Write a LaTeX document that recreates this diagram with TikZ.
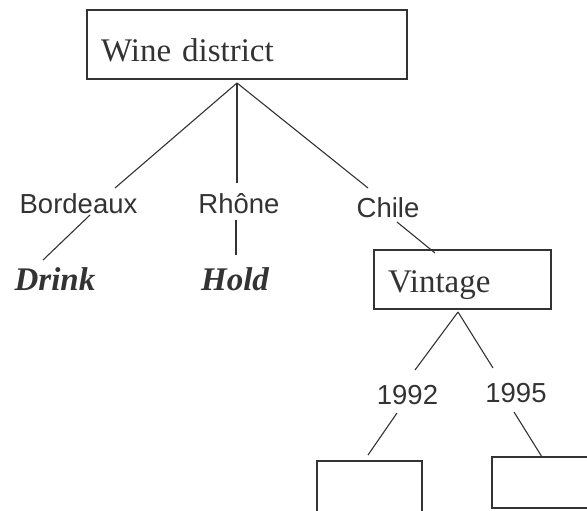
\documentclass[tikz,border=0pt]{standalone}
\usepackage{fontspec}
\setmainfont{Liberation Serif}
\setsansfont{Liberation Sans}
\usetikzlibrary{calc}
\definecolor{ink}{HTML}{333333}
\begin{document}
\begin{tikzpicture}[x=1pt,y=-1pt,
  box/.style={draw=ink, line width=1.1pt, inner ysep=0pt, inner xsep=14pt, outer sep=0pt,
    anchor=base west, align=left, font=\fontsize{33}{36}\selectfont, text=ink},
  emptybox/.style={draw=ink, line width=1.1pt, inner sep=0pt, outer sep=0pt, anchor=north west},
  lab/.style={inner sep=0pt, anchor=base, font=\sffamily\fontsize{27.5}{30}\selectfont, text=ink},
  verdict/.style={inner sep=0pt, anchor=base, font=\bfseries\itshape\fontsize{33}{36}\selectfont, text=ink},
  link/.style={draw=ink, line width=1.1pt}]
\useasboundingbox (0,0) rectangle (587,511);
\clip (0,0) rectangle (587,511);
\fill[white] (0,0) rectangle (587,511);

\node[box, text width=292pt, text height=52pt, text depth=17pt] (wine) at (87,62) {Wine district};
\node[lab] (bordeaux) at (78.5,213) {Bordeaux};
\node[lab] (rhone) at (239,213) {Rhône};
\node[lab] (chile) at (388,217) {Chile};
\node[verdict] (drink) at (55,290) {Drink};
\node[verdict] (hold) at (235,290) {Hold};
\node[box, text width=149pt, text height=42pt, text depth=17pt] (vintage) at (374,292) {Vintage};
\node[lab] (y1992) at (407.5,404) {1992};
\node[lab] (y1995) at (516,402) {1995};
\node[emptybox, minimum width=105pt, minimum height=80pt] (box1) at (317,461) {};
\node[emptybox, minimum width=120pt, minimum height=51pt] (box2) at (492,457) {};

\coordinate (top) at ($(wine.south west)+(150,4)$);
\draw[link] (top) -- ($(bordeaux.base)+(36.5,-25)$);
\draw[link] (top) -- ($(rhone.base)+(-2,-30)$);
\draw[link] (top) -- ($(chile.base)+(-20,-29)$);
\draw[link] ($(bordeaux.base)+(11.5,2)$) -- ($(drink.base)+(-12,-30)$);
\draw[link] ($(rhone.base)+(-3,7)$) -- ($(hold.base)+(1,-35)$);
\draw[link] ($(chile.base)+(9,5)$) -- ($(vintage.north west)+(61,3)$);
\coordinate (vtop) at ($(vintage.south west)+(84,3)$);
\draw[link] (vtop) -- ($(y1992.base)+(7.5,-34)$);
\draw[link] (vtop) -- ($(y1995.base)+(-23,-34)$);
\draw[link] ($(y1992.base)+(-10.5,9)$) -- ($(box1.north west)+(51,-6)$);
\draw[link] ($(y1995.base)+(-2,10)$) -- ($(box2.north west)+(50,0)$);
\end{tikzpicture}
\end{document}
